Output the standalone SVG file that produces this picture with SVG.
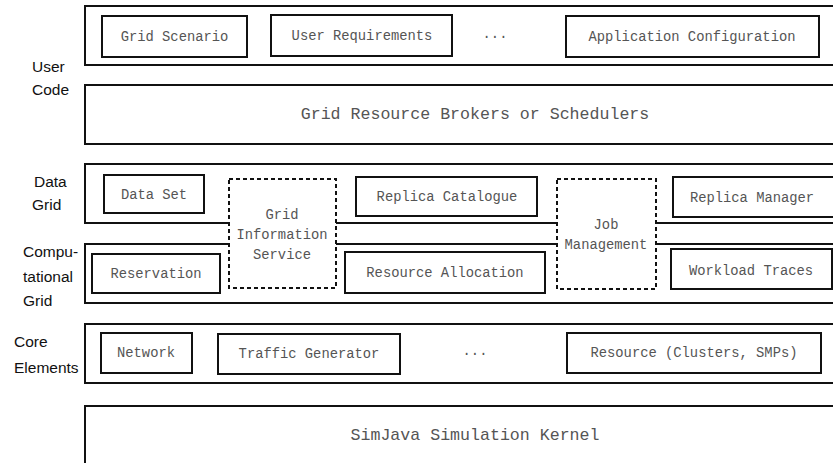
<svg xmlns="http://www.w3.org/2000/svg" width="833" height="463" viewBox="0 0 833 463">
<style>
.layer{fill:none;stroke:#111;stroke-width:2}
.box{fill:#fff;stroke:#111;stroke-width:2}
.dash{fill:#fff;stroke:#111;stroke-width:2;stroke-dasharray:4 3}
.m{font-family:"Liberation Mono","Courier New",monospace;font-size:13.8px;fill:#555;text-anchor:middle;dominant-baseline:central}
.big{font-size:16.6px}
.lbl{font-family:"Liberation Sans",Arial,sans-serif;font-size:15.5px;fill:#111}
</style>
<rect width="833" height="463" fill="#fff"/>
<g id="labels">
<text class="lbl" x="32" y="72">User</text>
<text class="lbl" x="32" y="95">Code</text>
<text class="lbl" x="34" y="187">Data</text>
<text class="lbl" x="32" y="210">Grid</text>
<text class="lbl" x="23" y="257">Compu-</text>
<text class="lbl" x="23" y="282">tational</text>
<text class="lbl" x="23" y="306">Grid</text>
<text class="lbl" x="14" y="347">Core</text>
<text class="lbl" x="14" y="373">Elements</text>
</g>
<g id="user-code-layer">
<rect class="layer" x="85" y="6" width="760" height="59"/>
<g id="grid-scenario"><rect class="box" x="102" y="16" width="145" height="41"/><text class="m" x="174.5" y="37">Grid Scenario</text></g>
<g id="user-requirements"><rect class="box" x="271" y="15" width="181" height="41"/><text class="m" x="362" y="36">User Requirements</text></g>
<text class="m" x="495" y="34">...</text>
<g id="application-configuration"><rect class="box" x="566" y="16" width="253" height="41"/><text class="m" x="692" y="37">Application Configuration</text></g>
</g>
<g id="brokers"><rect class="layer" x="85" y="85" width="760" height="59"/><text class="m big" x="475" y="114">Grid Resource Brokers or Schedulers</text></g>
<g id="data-grid-layer">
<path class="layer" d="M229 223 H85 V164 H845 M845 223 H656 M557 223 H336"/>
</g>
<g id="computational-grid-layer">
<path class="layer" d="M229 244 H85 V303 H845 M845 244 H656 M557 244 H336"/>
</g>
<g id="data-set"><rect class="box" x="104" y="175" width="100" height="38"/><text class="m" x="154" y="195">Data Set</text></g>
<g id="replica-catalogue"><rect class="box" x="356" y="177" width="181" height="39"/><text class="m" x="447" y="197">Replica Catalogue</text></g>
<g id="replica-manager"><rect class="box" x="673" y="177" width="170" height="40"/><text class="m" x="752" y="198">Replica Manager</text></g>
<g id="reservation"><rect class="box" x="92" y="254" width="128" height="39"/><text class="m" x="156" y="274">Reservation</text></g>
<g id="resource-allocation"><rect class="box" x="345" y="252" width="200" height="41"/><text class="m" x="445" y="273">Resource Allocation</text></g>
<g id="workload-traces"><rect class="box" x="671" y="249" width="161" height="40"/><text class="m" x="751" y="271">Workload Traces</text></g>
<g id="grid-information-service"><rect class="dash" x="229" y="179" width="107" height="109"/>
<text class="m" x="282" y="215">Grid</text><text class="m" x="282" y="235">Information</text><text class="m" x="282" y="255">Service</text></g>
<g id="job-management"><rect class="dash" x="557" y="179" width="99" height="110"/>
<text class="m" x="606" y="225">Job</text><text class="m" x="606" y="245">Management</text></g>
<g id="core-elements-layer">
<rect class="layer" x="85" y="324" width="760" height="59"/>
<g id="network"><rect class="box" x="101" y="333" width="91" height="40"/><text class="m" x="146" y="353">Network</text></g>
<g id="traffic-generator"><rect class="box" x="218" y="334" width="182" height="40"/><text class="m" x="309" y="354">Traffic Generator</text></g>
<text class="m" x="475" y="351">...</text>
<g id="resource"><rect class="box" x="567" y="333" width="254" height="40"/><text class="m" x="694" y="353">Resource (Clusters, SMPs)</text></g>
</g>
<g id="simjava"><rect class="layer" x="85" y="406" width="760" height="80"/><text class="m big" x="475" y="435">SimJava Simulation Kernel</text></g>
<g id="connectors"></g>
</svg>
